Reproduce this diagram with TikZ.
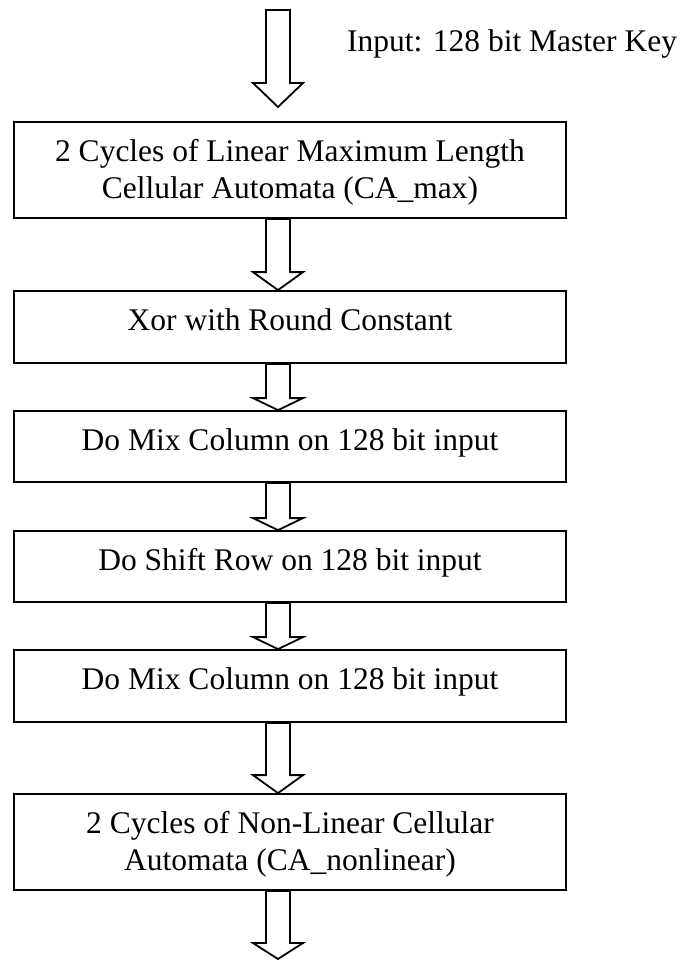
\documentclass[tikz,border=0pt]{standalone}
\usepackage{fontspec}
\setmainfont{Liberation Serif}
\usetikzlibrary{calc}
\tikzset{
  box/.style={draw, line width=1.8pt, minimum width=552pt, inner sep=0pt},
  lbl/.style={anchor=north, inner sep=0pt, align=center, font=\fontsize{31.5}{36.7}\selectfont},
  barrow/.style={draw, line width=1.8pt, line join=miter, fill=white},
}
\newcommand\blockarrow[3]{%
  \draw[barrow] let \p1=(#1), \p2=(#2) in
  (\x1-12pt,\y1) -- (\x1-12pt,\y2+#3pt) -- (\x1-25pt,\y2+#3pt) -- (\x2,\y2)
  -- (\x1+25pt,\y2+#3pt) -- (\x1+12pt,\y2+#3pt) -- (\x1+12pt,\y1) -- cycle;}
\begin{document}
\begin{tikzpicture}[x=1pt,y=-1pt]
\useasboundingbox (0,0) rectangle (682,960);
\coordinate (inTop) at (278,10);
\coordinate (inTip) at (278,107);
\coordinate (outTip) at (278,959);
\node[anchor=base west, inner sep=0pt, font=\fontsize{31.5}{36.7}\selectfont] (inlbl) at (347,52) {Input: 128 bit Master Key};

\node[box, minimum height=96pt] (b1) at (290,170) {};
\node[box, minimum height=72pt] (b2) at (290,327) {};
\node[box, minimum height=71pt] (b3) at (290,446.5) {};
\node[box, minimum height=71pt] (b4) at (290,566.5) {};
\node[box, minimum height=72pt] (b5) at (290,686) {};
\node[box, minimum height=96pt] (b6) at (290,842) {};

\node[lbl] (t1) at ($(b1.north)+(0,14.8)$) {\strut 2 Cycles of Linear Maximum Length\\\strut Cellular Automata (CA\_max)};
\node[lbl] (t2) at ($(b2.north)+(0,14.3)$) {\strut Xor with Round Constant};
\node[lbl] (t3) at ($(b3.north)+(0,14.3)$) {\strut Do Mix Column on 128 bit input};
\node[lbl] (t4) at ($(b4.north)+(0,14.3)$) {\strut Do Shift Row on 128 bit input};
\node[lbl] (t5) at ($(b5.north)+(0,14.3)$) {\strut Do Mix Column on 128 bit input};
\node[lbl] (t6) at ($(b6.north)+(0,14.8)$) {\strut 2 Cycles of Non-Linear Cellular\\\strut Automata (CA\_nonlinear)};

\blockarrow{inTop}{inTip}{24}
\blockarrow{$(b1.south)+(-12,0)$}{$(b2.north)+(-12,0)$}{18}
\blockarrow{$(b2.south)+(-12,0)$}{$(b3.north)+(-12,0)$}{12}
\blockarrow{$(b3.south)+(-12,0)$}{$(b4.north)+(-12,0)$}{12}
\blockarrow{$(b4.south)+(-12,0)$}{$(b5.north)+(-12,0)$}{12}
\blockarrow{$(b5.south)+(-12,0)$}{$(b6.north)+(-12,0)$}{18}
\blockarrow{$(b6.south)+(-12,0)$}{outTip}{16}
\end{tikzpicture}
\end{document}
